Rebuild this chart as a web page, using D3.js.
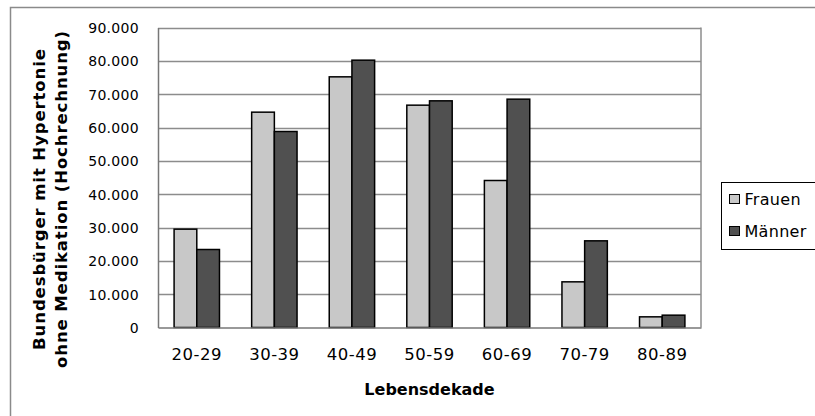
<!DOCTYPE html>
<html>
<head>
<meta charset="utf-8">
<script src="https://cdn.jsdelivr.net/npm/d3@7"></script>
<style>
  body { margin: 0; background: #fff; }
  text { font-family: "DejaVu Sans", Verdana, sans-serif; fill: #000; }
</style>
</head>
<body>
<div id="chart-area"></div>
<script>

var width = 815,
    height = 416;

// data
var categories = ["20-29", "30-39", "40-49", "50-59", "60-69", "70-79", "80-89"];
var series = ["Frauen", "Männer"];
var frauen = [29500, 64600, 75200, 66700, 44100, 13700, 3200];
var maenner = [23400, 58800, 80200, 68000, 68500, 26000, 3700];
var yTicks = [0, 10000, 20000, 30000, 40000, 50000, 60000, 70000, 80000, 90000];

var colors = { "Frauen": "#c8c8c8", "Männer": "#505050" };

var plot = { left: 158, right: 701, top: 27.5, bottom: 327.5 };

var de = d3.formatLocale({ decimal: ",", thousands: ".", grouping: [3], currency: ["", " €"] });
var fmt = de.format(",.0f");

var svg = d3.select("#chart-area").append("svg")
    .attr("width", width)
    .attr("height", height);

// outer frame
svg.append("rect")
    .attr("x", 10.5).attr("y", 7.5)
    .attr("width", 900).attr("height", 500)
    .style("fill", "none")
    .style("stroke", "#8a8a8a")
    .style("stroke-width", 1.5);

var x = d3.scaleBand()
    .domain(categories)
    .range([plot.left, plot.right])
    .paddingInner(0.415)
    .paddingOuter(0.2075);

var xs = d3.scaleBand()
    .domain(series)
    .range([0, x.bandwidth()]);

var y = d3.scaleLinear()
    .domain([0, 90000])
    .range([plot.bottom, plot.top]);

// gridlines
svg.append("g")
    .selectAll("line")
    .data(yTicks.filter(d => d > 0))
    .enter()
    .append("line")
    .attr("x1", plot.left).attr("x2", plot.right)
    .attr("y1", d => Math.round(y(d)) + 0.5)
    .attr("y2", d => Math.round(y(d)) + 0.5)
    .style("stroke", "#8c8c8c")
    .style("stroke-width", 1.5);

// right border of plot
svg.append("line")
    .attr("x1", plot.right).attr("x2", plot.right)
    .attr("y1", plot.top).attr("y2", plot.bottom)
    .style("stroke", "#8c8c8c")
    .style("stroke-width", 1.5);

// y axis
var yAxis = svg.append("g")
    .attr("transform", "translate(" + plot.left + ",0)")
    .call(d3.axisLeft(y).tickValues(yTicks).tickSize(0).tickPadding(19).tickFormat(fmt));
yAxis.select(".domain").style("stroke", "#777").style("stroke-width", 1.5);
yAxis.selectAll("text")
    .style("font-family", "DejaVu Sans")
    .style("font-size", "14px")
    .style("letter-spacing", "0.3px")
    .attr("dy", "0.36em");

// bars
var rows = categories.map(function(c, i) {
  return { cat: c, values: [{ s: "Frauen", v: frauen[i] }, { s: "Männer", v: maenner[i] }] };
});

var groups = svg.append("g")
    .selectAll("g")
    .data(rows)
    .enter()
    .append("g")
    .attr("transform", d => "translate(" + x(d.cat) + ",0)");

groups.selectAll("rect")
    .data(d => d.values)
    .enter()
    .append("rect")
    .attr("x", d => xs(d.s))
    .attr("y", d => y(d.v))
    .attr("width", xs.bandwidth())
    .attr("height", d => plot.bottom - y(d.v))
    .style("fill", d => colors[d.s])
    .style("stroke", "#000")
    .style("stroke-width", 1.5);

// x axis
var xAxis = svg.append("g")
    .attr("transform", "translate(0," + plot.bottom + ")")
    .call(d3.axisBottom(x).tickSize(0).tickPadding(21));
xAxis.select(".domain").style("stroke", "#777").style("stroke-width", 1.5);
xAxis.selectAll("text")
    .style("font-family", "DejaVu Sans")
    .style("font-size", "16.5px")
    .style("letter-spacing", "0.5px");

// axis titles
svg.append("text")
    .attr("x", (plot.left + plot.right) / 2)
    .attr("y", 395)
    .attr("text-anchor", "middle")
    .style("font-weight", "bold")
    .style("font-size", "16px")
    .text("Lebensdekade");

var yTitle = svg.append("text")
    .attr("transform", "translate(45,199) rotate(-90)")
    .attr("text-anchor", "middle")
    .style("font-weight", "bold")
    .style("font-size", "16.5px")
    .style("letter-spacing", "0.9px");
yTitle.append("tspan").attr("x", 0).attr("y", 0).text("Bundesbürger mit Hypertonie");
yTitle.append("tspan").attr("x", 0).attr("y", 22).text("ohne Medikation (Hochrechnung)");

// legend
var legend = svg.append("g");
legend.append("rect")
    .attr("x", 721.5).attr("y", 182.5)
    .attr("width", 100).attr("height", 67)
    .style("fill", "#fff")
    .style("stroke", "#000")
    .style("stroke-width", 1);

var item = legend.selectAll(".item")
    .data(series)
    .enter()
    .append("g")
    .attr("class", "item")
    .attr("transform", (d, i) => "translate(729.5," + (194.5 + i * 32) + ")");

item.append("rect")
    .attr("width", 10).attr("height", 9)
    .style("fill", d => colors[d])
    .style("stroke", "#000")
    .style("stroke-width", 1);

item.append("text")
    .attr("x", 15)
    .attr("y", 10)
    .style("font-size", "16px")
    .style("letter-spacing", "0.3px")
    .text(d => d);

</script>
</body>
</html>
